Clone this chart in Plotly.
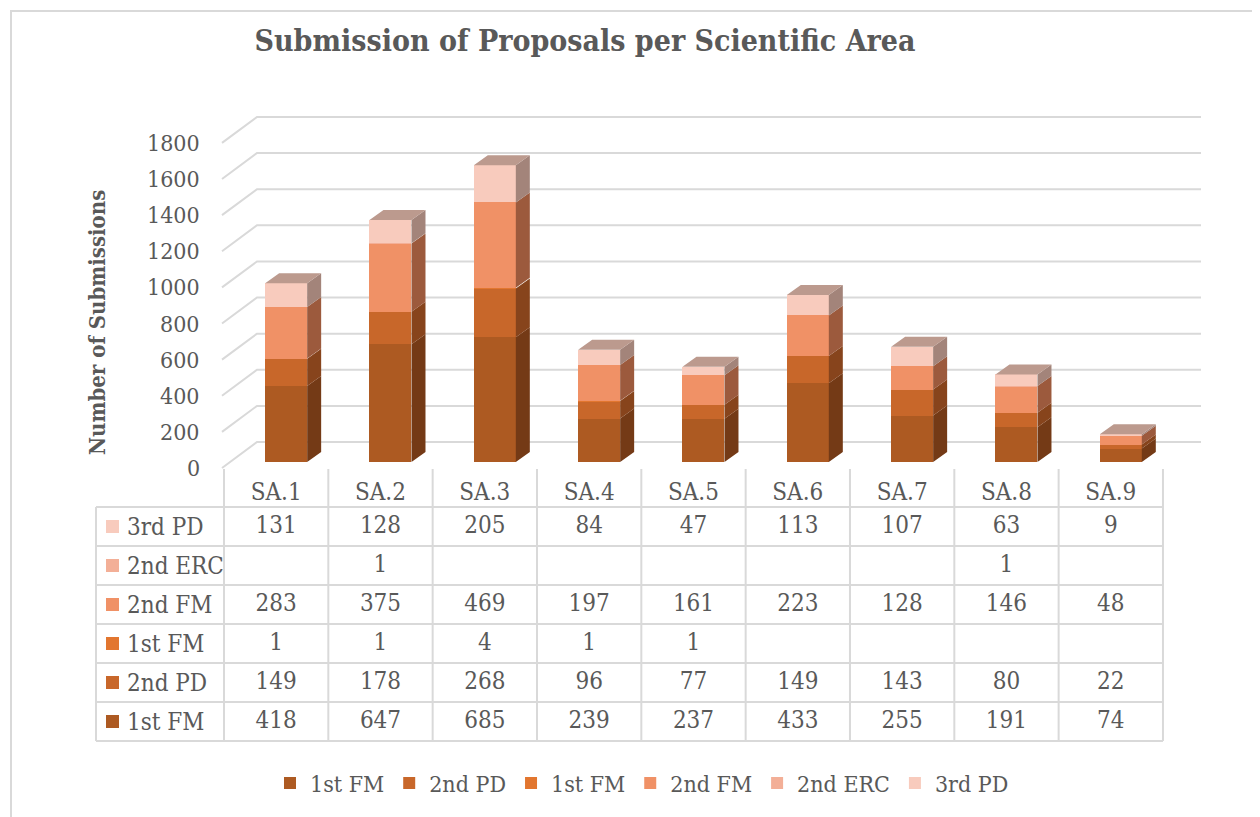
import plotly.graph_objects as go

# ---------------- data ----------------
categories = ["SA.1", "SA.2", "SA.3", "SA.4", "SA.5", "SA.6", "SA.7", "SA.8", "SA.9"]
series_names = ["1st FM", "2nd PD", "1st FM", "2nd FM", "2nd ERC", "3rd PD"]
first_fm_a = [418, 647, 685, 239, 237, 433, 255, 191, 74]
second_pd = [149, 178, 268, 96, 77, 149, 143, 80, 22]
first_fm_b = [1, 1, 4, 1, 1, None, None, None, None]
second_fm = [283, 375, 469, 197, 161, 223, 128, 146, 48]
second_erc = [None, 1, None, None, None, None, None, 1, None]
third_pd = [131, 128, 205, 84, 47, 113, 107, 63, 9]
y_ticks = [0, 200, 400, 600, 800, 1000, 1200, 1400, 1600, 1800]

series_values = [first_fm_a, second_pd, first_fm_b, second_fm, second_erc, third_pd]

# ---------------- style ----------------
front_colors = ["#AD5A22", "#C8672A", "#E2762F", "#F09166", "#F3AF97", "#F8CBBD"]
side_colors = ["#743A16", "#87441C", "#984E22", "#9C5A3D", "#A27563", "#A3847A"]
top_color = "#BC9A8E"
grid_color = "#D9D9D9"
text_color = "#595959"
FONT = "DejaVu Serif Condensed, DejaVu Serif, serif"

W, H = 1260, 817
OFF = 8.0                           # page margin around the plot div
COL0, COLW = 224.0, 104.33          # table / category columns (page px)
BAR_W, BAR_SHIFT = 42.0, 10.0       # bar front width and perspective shift (px)
DX, DY = 14.0, 10.0                 # depth of the 3D bars (px)
Y0, SCALE = 462.0, 0.182            # baseline of bar fronts and px per unit

def px2x(p):
    return (p - COL0) / COLW - 0.5

def py2y(p):
    return (Y0 - p) / SCALE

def PX(p):
    return (p - OFF) / W

def PY(p):
    return 1 - (p - OFF) / H

fig = go.Figure()
shapes = []

# ---------------- gridlines (back wall + side wall), below the bars ----------------
for v in y_ticks:
    front_y = 468 - 0.1806 * v
    back_y = 442 - 0.1806 * v
    path = "M{},{} L{},{} L{},{}".format(px2x(222), py2y(front_y), px2x(257), py2y(back_y),
                                        px2x(1201), py2y(back_y))
    shapes.append(dict(type="path", xref="x", yref="y", path=path,
                       line=dict(color=grid_color, width=2), layer="below"))

# ---------------- bars (front faces) ----------------
idx = list(range(len(categories)))
for name, vals, col in zip(series_names, series_values, front_colors):
    fig.add_trace(go.Bar(
        x=idx, y=vals, name=name, marker=dict(color=col, line=dict(width=0)),
        width=BAR_W / COLW, offset=(BAR_SHIFT - BAR_W / 2) / COLW,
        hovertemplate=name + ": %{y}<extra></extra>"))

# ---------------- 3D side and top faces ----------------
dxd = DX / COLW
dyd = DY / SCALE
xr_off = (BAR_SHIFT + BAR_W / 2) / COLW
xl_off = (BAR_SHIFT - BAR_W / 2) / COLW
bases = [0.0] * len(categories)
for vals, scol in zip(series_values, side_colors):
    sx, sy = [], []
    for i, v in enumerate(vals):
        if v is None:
            continue
        b, t = bases[i], bases[i] + v
        xr = i + xr_off
        sx += [xr, xr + dxd, xr + dxd, xr, xr, None]
        sy += [b, b + dyd, t + dyd, t, b, None]
        bases[i] = t
    fig.add_trace(go.Scatter(x=sx, y=sy, mode="lines", fill="toself", fillcolor=scol,
                             line=dict(width=0, color=scol), hoverinfo="skip", showlegend=False))
tx, ty = [], []
for i, T in enumerate(bases):
    xl, xr = i + xl_off, i + xr_off
    tx += [xl, xl + dxd, xr + dxd, xr, xl, None]
    ty += [T, T + dyd, T + dyd, T, T, None]
fig.add_trace(go.Scatter(x=tx, y=ty, mode="lines", fill="toself", fillcolor=top_color,
                         line=dict(width=0, color=top_color), hoverinfo="skip", showlegend=False))

# ---------------- data table ----------------
def pline(x0, y0, x1, y1):
    shapes.append(dict(type="line", xref="paper", yref="paper",
                       x0=PX(x0), x1=PX(x1), y0=PY(y0), y1=PY(y1),
                       line=dict(color=grid_color, width=2), layer="above"))

TABLE_L, HEAD_TOP, ROW0, ROWH = 96.0, 469.0, 507.0, 39.0
n_rows = len(series_names)
table_r = COL0 + COLW * len(categories)
for r in range(n_rows + 1):
    pline(TABLE_L, ROW0 + r * ROWH, table_r, ROW0 + r * ROWH)
pline(TABLE_L, ROW0, TABLE_L, ROW0 + n_rows * ROWH)
for c in range(len(categories) + 1):
    xc = COL0 + c * COLW
    pline(xc, HEAD_TOP, xc, ROW0 + n_rows * ROWH)

annotations = []
TABLE_FONT = dict(family=FONT, size=24, color=text_color)
# header labels
fig.add_trace(go.Scatter(x=idx, y=[py2y(494)] * len(idx), text=categories, mode="text",
                         textfont=TABLE_FONT, hoverinfo="skip", showlegend=False))
# rows (top row = last series)
for r in range(n_rows):
    k = n_rows - 1 - r
    cy = ROW0 + r * ROWH + ROWH / 2
    vals = series_values[k]
    fig.add_trace(go.Scatter(x=idx, y=[py2y(cy)] * len(idx),
                             text=["" if v is None else str(v) for v in vals], mode="text",
                             textfont=TABLE_FONT, hoverinfo="skip", showlegend=False))
    shapes.append(dict(type="rect", xref="paper", yref="paper",
                       x0=PX(106), x1=PX(119), y0=PY(cy - 6.5), y1=PY(cy + 6.5),
                       fillcolor=front_colors[k], line=dict(width=0), layer="above"))
    annotations.append(dict(x=PX(125), y=PY(cy), xref="paper", yref="paper",
                            text=series_names[k], showarrow=False, xanchor="left", yanchor="middle",
                            font=TABLE_FONT))

# ---------------- y tick labels ----------------
for v in y_ticks:
    annotations.append(dict(x=PX(202), y=PY(468 - 0.1806 * v), xref="paper", yref="paper",
                            text=str(v), showarrow=False, xanchor="right", yanchor="middle",
                            font=dict(family=FONT, size=23, color=text_color)))

# axis title
annotations.append(dict(x=PX(97), y=PY(323), xref="paper", yref="paper",
                        text="Number of Submissions", showarrow=False, textangle=-90,
                        xanchor="center", yanchor="middle",
                        font=dict(family=FONT, size=22, color=text_color, weight="bold")))

# outer border (right and bottom edges fall outside the window, as in the reference)
shapes.append(dict(type="rect", xref="paper", yref="paper",
                   x0=PX(11), x1=PX(1263), y0=PY(11), y1=PY(820),
                   line=dict(color=grid_color, width=2), fillcolor="rgba(0,0,0,0)", layer="above"))

fig.update_layout(
    width=W, height=H, margin=dict(l=0, r=0, t=0, b=0),
    paper_bgcolor="white", plot_bgcolor="white",
    barmode="stack",
    title=dict(text="Submission of Proposals per Scientific Area", x=PX(585), y=PY(40),
               xanchor="center", yanchor="middle", xref="paper", yref="paper",
               font=dict(family=FONT, size=30, color=text_color, weight="bold")),
    xaxis=dict(range=[px2x(OFF), px2x(OFF + W)], visible=False, fixedrange=True),
    yaxis=dict(range=[py2y(OFF + H), py2y(OFF)], visible=False, fixedrange=True),
    legend=dict(orientation="h", x=PX(642), xanchor="center", y=PY(783), yanchor="middle",
                traceorder="normal", font=dict(family=FONT, size=23, color=text_color),
                bgcolor="rgba(0,0,0,0)", itemwidth=30),
    shapes=shapes, annotations=annotations,
)

fig.write_html("out.html")
